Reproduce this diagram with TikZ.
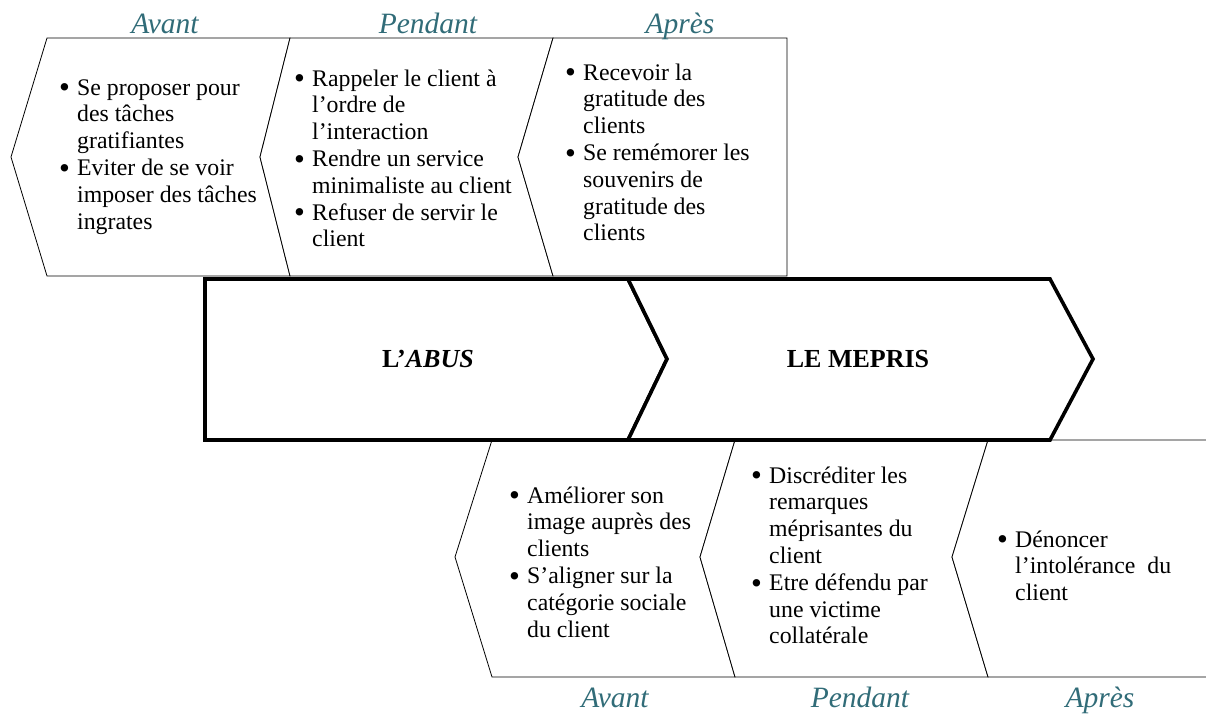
\documentclass[tikz,border=0pt]{standalone}
\usepackage{fontspec}
\setmainfont{Liberation Serif}
\definecolor{titlecol}{RGB}{49,108,120}
\tikzset{
  thin shape/.style={draw=black, line width=0.8pt, line join=miter, fill=white},
  thick shape/.style={draw=black, line width=3.6pt, line join=miter, fill=white},
  phase title/.style={anchor=base, inner sep=0pt, text=titlecol, font=\fontsize{29.5}{31}\selectfont\itshape},
  item text/.style={anchor=base west, inner sep=0pt, font=\fontsize{23.8}{26.8}\selectfont},
  arrow text/.style={anchor=center, inner sep=0pt, font=\fontsize{26}{30}\selectfont\bfseries}
}
\newcommand{\bul}{\makebox[18pt][l]{\raisebox{-2.8pt}{\scalebox{1.3}{\textbullet}}}}
\begin{document}
\begin{tikzpicture}[x=1pt,y=-1pt]
\useasboundingbox (0,0) rectangle (1206,715);
% top row
\draw[thin shape] (11,157) -- (47,38) -- (290,38) -- (260,157) -- (290,276) -- (47,276) -- cycle;
\draw[thin shape] (260,157) -- (290,38) -- (553,38) -- (518,157) -- (553,276) -- (290,276) -- cycle;
\draw[thin shape] (518,157) -- (553,38) -- (787,38) -- (787,276) -- (553,276) -- cycle;
% bottom row
\draw[thin shape] (455,557) -- (492,440) -- (735,440) -- (700,557) -- (735,677) -- (492,677) -- cycle;
\draw[thin shape] (700,557) -- (735,440) -- (988,440) -- (952,557) -- (988,677) -- (735,677) -- cycle;
\draw[thin shape] (1206,440) -- (988,440) -- (952,557) -- (988,677) -- (1206,677);
% central arrows
\draw[thick shape] (205,279) -- (628,279) -- (667,359) -- (628,440) -- (205,440) -- cycle;
\draw[thick shape] (628,279) -- (1050,279) -- (1093,359) -- (1050,440) -- (628,440) -- (667,359) -- cycle;
\node[arrow text] (abus) at (428,359) {L’\textit{ABUS}};
\node[arrow text] (mepris) at (858,359) {LE MEPRIS};
% titles
\node[phase title] (t1) at (165,33) {Avant};
\node[phase title] (t2) at (428,33) {Pendant};
\node[phase title] (t3) at (680,33) {Après};
\node[phase title] (b1) at (615,707) {Avant};
\node[phase title] (b2) at (860,707) {Pendant};
\node[phase title] (b3) at (1100,707) {Après};
% texts top
\node[item text] (x1) at (59,95) {\begin{tabular}[t]{@{}l@{}l@{}}
\bul & Se proposer pour\\ & des tâches\\ & gratifiantes\\
\bul & Eviter de se voir\\ & imposer des tâches\\ & ingrates\end{tabular}};
\node[item text] (x2) at (294,86) {\begin{tabular}[t]{@{}l@{}l@{}}
\bul & Rappeler le client à\\ & l’ordre de\\ & l’interaction\\
\bul & Rendre un service\\ & minimaliste au client\\
\bul & Refuser de servir le\\ & client\end{tabular}};
\node[item text] (x3) at (565,80) {\begin{tabular}[t]{@{}l@{}l@{}}
\bul & Recevoir la\\ & gratitude des\\ & clients\\
\bul & Se remémorer les\\ & souvenirs de\\ & gratitude des\\ & clients\end{tabular}};
% texts bottom
\node[item text] (y1) at (509,503) {\begin{tabular}[t]{@{}l@{}l@{}}
\bul & Améliorer son\\ & image auprès des\\ & clients\\
\bul & S’aligner sur la\\ & catégorie sociale\\ & du client\end{tabular}};
\node[item text] (y2) at (751,483) {\begin{tabular}[t]{@{}l@{}l@{}}
\bul & Discréditer les\\ & remarques\\ & méprisantes du\\ & client\\
\bul & Etre défendu par\\ & une victime\\ & collatérale\end{tabular}};
\node[item text] (y3) at (997,547) {\begin{tabular}[t]{@{}l@{}l@{}}
\bul & Dénoncer\\ & l’intolérance\ \ du\\ & client\end{tabular}};
\end{tikzpicture}
\end{document}
